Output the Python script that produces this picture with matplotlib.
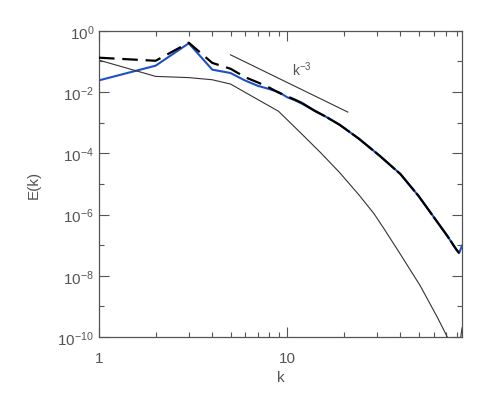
import matplotlib
matplotlib.use('Agg')
import matplotlib.pyplot as plt
import matplotlib.ticker as mticker
import numpy as np

plt.rcParams['font.family'] = ['Liberation Sans', 'DejaVu Sans']
plt.rcParams['mathtext.fontset'] = 'custom'
plt.rcParams['mathtext.rm'] = 'Liberation Sans'
plt.rcParams['mathtext.it'] = 'Liberation Sans'
plt.rcParams['mathtext.default'] = 'regular'

# blue spectrum
k_blue = [1, 2, 3, 4, 5, 6, 7, 8, 9, 10, 11, 12, 14, 16, 19, 24, 31, 40, 50, 58, 71, 79, 82, 85]
logE_blue = [-1.62, -1.14, -0.41, -1.27, -1.38, -1.63, -1.80, -1.90, -2.00, -2.17, -2.27, -2.38,
             -2.62, -2.80, -3.07, -3.52, -4.08, -4.68, -5.40, -5.95, -6.70, -7.13, -7.26, -7.02]

# dashed black spectrum
k_dash = [1, 2, 3, 4, 5, 6, 7, 8, 9, 10, 11, 12, 14, 16, 19, 24, 31, 40, 50, 58, 71, 79, 82]
logE_dash = [-0.88, -0.98, -0.39, -1.05, -1.24, -1.52, -1.69, -1.85, -2.02, -2.14, -2.25, -2.36,
             -2.61, -2.80, -3.07, -3.52, -4.08, -4.68, -5.40, -5.95, -6.70, -7.13, -7.26]

# thin black spectrum
k_thin = [1, 2, 3, 4, 5, 9, 12, 15, 19, 24, 29, 33, 40, 51, 63, 71, 81, 85]
logE_thin = [-0.96, -1.49, -1.53, -1.60, -1.74, -2.63, -3.38, -3.97, -4.63, -5.35, -5.98, -6.50,
             -7.30, -8.33, -9.37, -10.0, -10.65, -9.7]

# reference slope
k_ref = [5, 21]
ref_amp = 20.5

E_blue = 10.0 ** np.array(logE_blue)
E_dash = 10.0 ** np.array(logE_dash)
E_thin = 10.0 ** np.array(logE_thin)
E_ref = ref_amp * np.array(k_ref, dtype=float) ** -3

grey = '#555555'

fig = plt.figure(figsize=(4.91, 4.02), dpi=100)
ax = fig.add_axes([0.2016, 0.1592, 0.7394, 0.7618])

ax.plot(k_blue, E_blue, color='#1d4fc6', linewidth=1.5, zorder=2)
split = k_dash.index(12)
ax.plot(k_dash[:split + 1], E_dash[:split + 1], color='black', linewidth=1.6,
        dashes=(7, 3.5), zorder=3)
ax.plot(k_dash[split:], E_dash[split:], color='black', linewidth=1.6,
        dashes=(12, 1.2), zorder=3)
ax.plot(k_thin, E_thin, color='#333333', linewidth=0.8, zorder=2)
ax.plot(k_ref, E_ref, color='#333333', linewidth=0.8, zorder=2)
ax.text(10.6, 0.056, r'$k^{-3}$', fontsize=10, color=grey, ha='left', va='center')

ax.set_xscale('log')
ax.set_yscale('log')
ax.set_xlim(1, 85)
ax.set_ylim(1e-10, 1)

ax.yaxis.set_major_locator(mticker.FixedLocator([10.0 ** e for e in range(-10, 1, 2)]))
ax.yaxis.set_minor_locator(mticker.FixedLocator([10.0 ** e for e in range(-9, 0, 2)]))
ax.yaxis.set_major_formatter(mticker.FuncFormatter(lambda v, p: r'$10^{%d}$' % round(np.log10(v))))
ax.yaxis.set_minor_formatter(mticker.NullFormatter())
ax.xaxis.set_major_locator(mticker.FixedLocator([1, 10]))
ax.xaxis.set_minor_locator(mticker.FixedLocator([2, 3, 4, 5, 6, 7, 8, 9, 20, 30, 40, 50, 60, 70, 80]))
ax.xaxis.set_major_formatter(mticker.FixedFormatter(['1', '10']))
ax.xaxis.set_minor_formatter(mticker.NullFormatter())

ax.tick_params(which='both', direction='in', top=True, right=True, colors=grey,
               labelsize=11, width=0.8)
ax.tick_params(which='major', length=7)
ax.tick_params(which='minor', length=3.5)
ax.tick_params(axis='x', which='major', pad=10)
for s in ax.spines.values():
    s.set_color(grey)
    s.set_linewidth(0.9)

ax.set_xlabel('k', fontsize=11, color=grey, labelpad=4)
ax.set_ylabel('E(k)', fontsize=11, color=grey, labelpad=12)

plt.savefig('out.png', dpi=100)
